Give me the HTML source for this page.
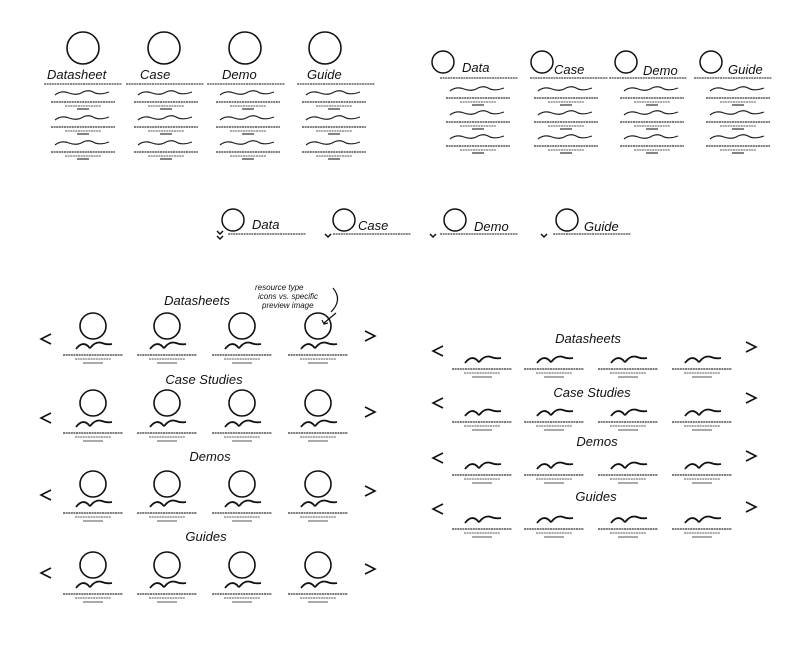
<!DOCTYPE html>
<html><head><meta charset="utf-8"><style>
html,body{margin:0;padding:0;background:#fff;}
svg{display:block;}
text{font-family:"Liberation Sans",sans-serif;fill:#111;}
</style></head><body>
<svg width="806" height="649" viewBox="0 0 806 649" xmlns="http://www.w3.org/2000/svg">
<defs>
<g id="tl">
 <path d="M-28,0 q6,-5 14,-2 q8,3 14,-1 q6,-3 12,1 q6,2 14,-1" fill="none" stroke="#222" stroke-width="1.2"/>
 <line x1="-32" y1="7" x2="32" y2="7" stroke="#333" stroke-width="1.3" stroke-dasharray="2 0.6"/>
 <line x1="-18" y1="11" x2="18" y2="11" stroke="#555" stroke-width="1" stroke-dasharray="2 0.6"/>
 <line x1="-6" y1="14" x2="6" y2="14" stroke="#333" stroke-width="1.2"/>
</g>
<g id="car">
 <path d="M-17,3 q6,-8 12,-3 q2,3 3,1 q5,-6 11,-4 q5,2 10,1" fill="none" stroke="#111" stroke-width="1.8"/>
 <line x1="-30" y1="9" x2="30" y2="9" stroke="#333" stroke-width="1.3" stroke-dasharray="2 0.6"/>
 <line x1="-18" y1="13" x2="18" y2="13" stroke="#555" stroke-width="1" stroke-dasharray="2 0.6"/>
 <line x1="-10" y1="17" x2="10" y2="17" stroke="#555" stroke-width="1"/>
</g>
<g id="dl"><line x1="0" y1="0" x2="78" y2="0" stroke="#444" stroke-width="1.2" stroke-dasharray="2 0.6"/></g>
</defs>

<!-- top left -->
<g fill="none" stroke="#111" stroke-width="1.6">
 <circle cx="83" cy="48" r="16"/><circle cx="164" cy="48" r="16"/><circle cx="245" cy="48" r="16"/><circle cx="325" cy="48" r="16"/>
</g>
<g font-size="13" font-style="italic">
 <text x="47" y="79">Datasheet</text><text x="140" y="79">Case</text><text x="222" y="79">Demo</text><text x="307" y="79">Guide</text>
</g>
<use href="#dl" x="44" y="84"/><use href="#dl" x="126" y="84"/><use href="#dl" x="207" y="84"/><use href="#dl" x="297" y="84"/>
<g>
 <use href="#tl" x="83" y="95"/><use href="#tl" x="83" y="120"/><use href="#tl" x="83" y="145"/>
 <use href="#tl" x="166" y="95"/><use href="#tl" x="166" y="120"/><use href="#tl" x="166" y="145"/>
 <use href="#tl" x="248" y="95"/><use href="#tl" x="248" y="120"/><use href="#tl" x="248" y="145"/>
 <use href="#tl" x="334" y="95"/><use href="#tl" x="334" y="120"/><use href="#tl" x="334" y="145"/>
</g>

<!-- top right -->
<g fill="none" stroke="#111" stroke-width="1.5">
 <circle cx="443" cy="62" r="11"/><circle cx="542" cy="62" r="11"/><circle cx="626" cy="62" r="11"/><circle cx="711" cy="62" r="11"/>
</g>
<g font-size="13" font-style="italic">
 <text x="462" y="72">Data</text><text x="554" y="74">Case</text><text x="643" y="75">Demo</text><text x="728" y="74">Guide</text>
</g>
<use href="#dl" x="440" y="78"/><use href="#dl" x="530" y="78"/><use href="#dl" x="609" y="78"/><use href="#dl" x="694" y="78"/>
<g>
 <use href="#tl" x="478" y="91"/><use href="#tl" x="478" y="115"/><use href="#tl" x="478" y="139"/>
 <use href="#tl" x="566" y="91"/><use href="#tl" x="566" y="115"/><use href="#tl" x="566" y="139"/>
 <use href="#tl" x="652" y="91"/><use href="#tl" x="652" y="115"/><use href="#tl" x="652" y="139"/>
 <use href="#tl" x="738" y="91"/><use href="#tl" x="738" y="115"/><use href="#tl" x="738" y="139"/>
</g>

<!-- middle -->
<g fill="none" stroke="#111" stroke-width="1.5">
 <circle cx="233" cy="220" r="11"/><circle cx="344" cy="220" r="11"/><circle cx="455" cy="220" r="11"/><circle cx="567" cy="220" r="11"/>
 <path d="M217,231 l3,3 l3,-3 M217,236 l3,3 l3,-3"/>
 <path d="M325,234 l3,3 l3,-3"/>
 <path d="M430,234 l3,3 l3,-3"/>
 <path d="M541,234 l3,3 l3,-3"/>
</g>
<g font-size="13" font-style="italic">
 <text x="252" y="229">Data</text><text x="358" y="230">Case</text><text x="474" y="231">Demo</text><text x="584" y="231">Guide</text>
</g>
<use href="#dl" x="228" y="234"/><use href="#dl" x="333" y="234"/><use href="#dl" x="440" y="234"/><use href="#dl" x="553" y="234"/>

<!-- bottom left -->
<g font-size="13" font-style="italic" text-anchor="middle">
 <text x="197" y="305">Datasheets</text>
 <text x="204" y="384">Case Studies</text>
 <text x="210" y="461">Demos</text>
 <text x="206" y="541">Guides</text>
</g>
<g font-size="8" font-style="italic">
 <text x="255" y="290">resource type</text>
 <text x="258" y="299">icons vs. specific</text>
 <text x="262" y="308">preview image</text>
</g>
<path d="M333,288 q10,12 -2,24 M336,313 l-12,10 M322,320 l2,4 l4,-1" fill="none" stroke="#111" stroke-width="1.2"/>
<g fill="none" stroke="#111" stroke-width="1.6">
 <circle cx="93" cy="326" r="13"/><circle cx="167" cy="326" r="13"/><circle cx="242" cy="326" r="13"/><circle cx="318" cy="326" r="13"/>
 <circle cx="93" cy="403" r="13"/><circle cx="167" cy="403" r="13"/><circle cx="242" cy="403" r="13"/><circle cx="318" cy="403" r="13"/>
 <circle cx="93" cy="484" r="13"/><circle cx="167" cy="484" r="13"/><circle cx="242" cy="484" r="13"/><circle cx="318" cy="484" r="13"/>
 <circle cx="93" cy="565" r="13"/><circle cx="167" cy="565" r="13"/><circle cx="242" cy="565" r="13"/><circle cx="318" cy="565" r="13"/>
 <path d="M51,334 l-10,5 l10,5 M365,331 l10,5 l-10,5"/>
 <path d="M51,413 l-10,5 l10,5 M365,407 l10,5 l-10,5"/>
 <path d="M51,490 l-10,5 l10,5 M365,486 l10,5 l-10,5"/>
 <path d="M51,568 l-10,5 l10,5 M365,564 l10,5 l-10,5"/>
</g>
<g>
 <use href="#car" x="93" y="346"/><use href="#car" x="167" y="346"/><use href="#car" x="242" y="346"/><use href="#car" x="318" y="346"/>
 <use href="#car" x="93" y="424"/><use href="#car" x="167" y="424"/><use href="#car" x="242" y="424"/><use href="#car" x="318" y="424"/>
 <use href="#car" x="93" y="504"/><use href="#car" x="167" y="504"/><use href="#car" x="242" y="504"/><use href="#car" x="318" y="504"/>
 <use href="#car" x="93" y="585"/><use href="#car" x="167" y="585"/><use href="#car" x="242" y="585"/><use href="#car" x="318" y="585"/>
</g>

<!-- bottom right -->
<g font-size="13" font-style="italic" text-anchor="middle">
 <text x="588" y="343">Datasheets</text>
 <text x="592" y="397">Case Studies</text>
 <text x="597" y="446">Demos</text>
 <text x="596" y="501">Guides</text>
</g>
<g fill="none" stroke="#111" stroke-width="1.6">
 <path d="M443,346 l-10,5 l10,5 M746,342 l10,5 l-10,5"/>
 <path d="M443,398 l-10,5 l10,5 M746,393 l10,5 l-10,5"/>
 <path d="M443,453 l-10,5 l10,5 M746,451 l10,5 l-10,5"/>
 <path d="M443,504 l-10,5 l10,5 M746,502 l10,5 l-10,5"/>
</g>
<g>
 <use href="#car" x="482" y="360"/><use href="#car" x="554" y="360"/><use href="#car" x="628" y="360"/><use href="#car" x="702" y="360"/>
 <use href="#car" x="482" y="413"/><use href="#car" x="554" y="413"/><use href="#car" x="628" y="413"/><use href="#car" x="702" y="413"/>
 <use href="#car" x="482" y="466"/><use href="#car" x="554" y="466"/><use href="#car" x="628" y="466"/><use href="#car" x="702" y="466"/>
 <use href="#car" x="482" y="520"/><use href="#car" x="554" y="520"/><use href="#car" x="628" y="520"/><use href="#car" x="702" y="520"/>
</g>
</svg>
</body></html>
